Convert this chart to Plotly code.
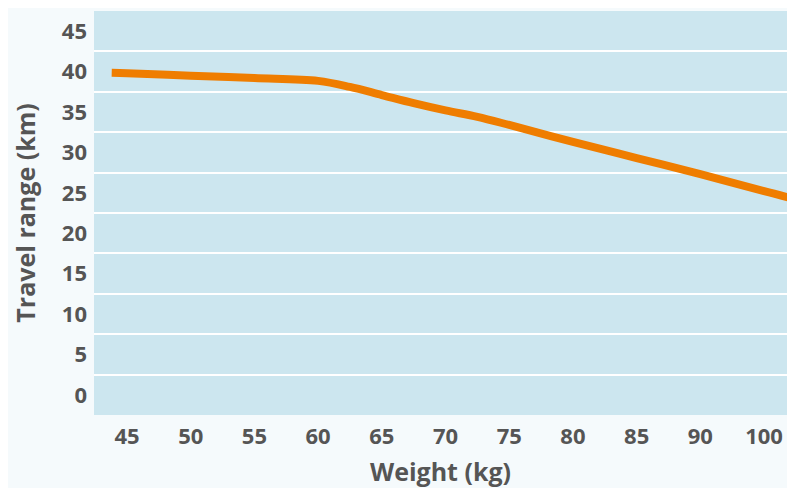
import plotly.graph_objects as go

# weight positions along the axis and travel range
weight = [43.8, 45, 50, 55, 60, 62.5, 65, 67.5, 70, 72.5, 75, 80, 85, 90, 95, 97]
travel_range = [39.85, 39.8, 39.5, 39.2, 38.85, 38.1, 37.1, 36.1, 35.2, 34.4, 33.4, 31.3, 29.3, 27.3, 25.2, 24.4]

x_tickvals = [45, 50, 55, 60, 65, 70, 75, 80, 85, 90, 95]
x_ticktext = ["45", "50", "55", "60", "65", "70", "75", "80", "85", "90", "100"]
y_tickvals = [0, 5, 10, 15, 20, 25, 30, 35, 40, 45]

grey = "#555555"
tick_font = dict(family="Open Sans", size=22, color=grey, weight=700)
title_font = dict(family="Open Sans", size=25, color=grey, weight=700)

fig = go.Figure()
fig.add_trace(go.Scatter(
    x=weight, y=travel_range,
    mode="lines",
    line=dict(color="#EF7D00", width=8, shape="spline", smoothing=1),
    hoverinfo="skip",
    showlegend=False,
))

# page body has an 8px margin, and only ~787px of the width is visible
fig.update_layout(
    width=779, height=480,
    margin=dict(l=86, r=0, t=3, b=73, autoexpand=False),
    paper_bgcolor="#f5fafc",
    plot_bgcolor="#cce6ef",
    font=tick_font,
    xaxis=dict(
        range=[42.41, 96.8],
        tickmode="array", tickvals=x_tickvals, ticktext=x_ticktext,
        showgrid=False, zeroline=False, showline=False,
        ticks="", ticklabelstandoff=6, automargin=False,
        tickfont=tick_font,
        title=dict(text="Weight (kg)", font=title_font, standoff=14),
    ),
    yaxis=dict(
        range=[-2.5, 47.5],
        tickmode="array", tickvals=y_tickvals,
        showgrid=False, zeroline=False, showline=False,
        ticks="", ticklabelstandoff=6, automargin=False,
        tickfont=tick_font,
        minor=dict(tick0=2.5, dtick=5, showgrid=True, gridcolor="white", gridwidth=2, ticks=""),
        title=dict(text="Travel range (km)", font=title_font, standoff=26),
    ),
)

fig.write_html("out.html")
